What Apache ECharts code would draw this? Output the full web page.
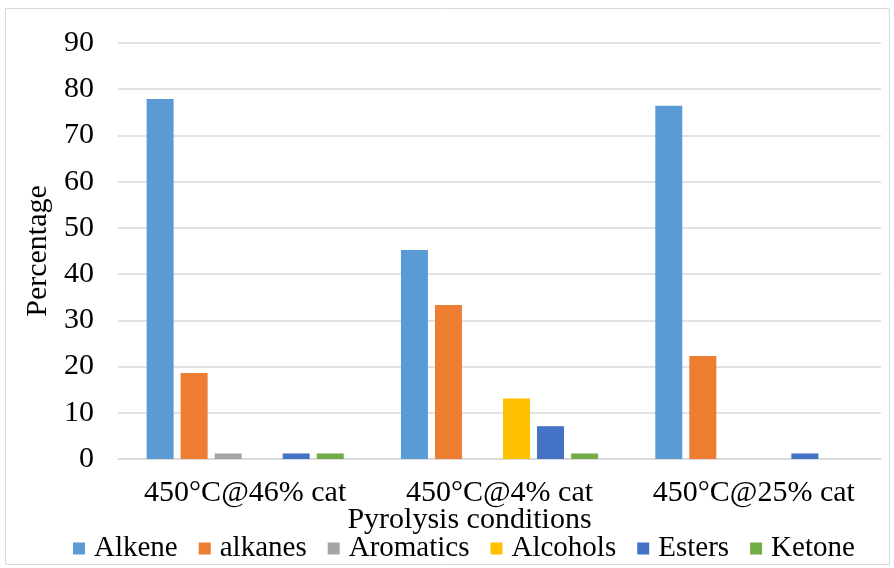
<!DOCTYPE html>
<html><head><meta charset="utf-8">
<script src="https://cdn.jsdelivr.net/npm/echarts@6/dist/echarts.min.js"></script>
<style>html,body{margin:0;padding:0;background:#fff}#c{width:894px;height:568px}</style>
</head><body><div id="c"></div>
<script>
const categories = ['450°C@46% cat', '450°C@4% cat', '450°C@25% cat'];
const seriesNames = ['Alkene', 'alkanes', 'Aromatics', 'Alcohols', 'Esters', 'Ketone'];
const alkene = [77.9, 45.2, 76.4];
const alkanes = [18.6, 33.3, 22.3];
const aromatics = [1.2, null, null];
const alcohols = [null, 13.1, null];
const esters = [1.2, 7.1, 1.2];
const ketone = [1.2, 1.2, null];
const yTicks = [0, 10, 20, 30, 40, 50, 60, 70, 80, 90];
const colors = ['#5B9BD5', '#ED7D31', '#A5A5A5', '#FFC000', '#4472C4', '#70AD47'];
const values = [alkene, alkanes, aromatics, alcohols, esters, ketone];

const font = 'Liberation Serif, Times New Roman, serif';
const chart = echarts.init(document.getElementById('c'));
chart.setOption({
  animation: false,
  color: colors,
  graphic: [{type: 'rect', shape: {x: 5.5, y: 8.5, width: 884, height: 556}, style: {fill: 'none', stroke: '#d9d9d9', lineWidth: 1}, silent: true}],
  grid: {left: 118, right: 13, top: 43, bottom: 109, containLabel: false},
  legend: {
    bottom: 0, left: 68, itemWidth: 12, itemHeight: 12, itemGap: 21,
    icon: 'rect',
    textStyle: {fontFamily: font, fontSize: 29, color: '#000', padding: [0, 0, 0, 4]},
    data: seriesNames
  },
  xAxis: {
    type: 'category', data: categories,
    name: 'Pyrolysis conditions', nameLocation: 'middle', nameGap: 46, nameMoveOverlap: false,
    nameTextStyle: {fontFamily: font, fontSize: 30, color: '#000', padding: [0, 60, 0, 0]},
    axisLine: {lineStyle: {color: '#d9d9d9', width: 1.5}},
    axisTick: {show: false},
    axisLabel: {fontFamily: font, fontSize: 30, color: '#000', margin: 19, interval: 0}
  },
  yAxis: {
    type: 'value', min: yTicks[0], max: yTicks[yTicks.length - 1], interval: 10,
    name: 'Percentage', nameLocation: 'middle', nameGap: 62, nameRotate: 90,
    nameTextStyle: {fontFamily: font, fontSize: 30, color: '#000'},
    axisLine: {show: false}, axisTick: {show: false},
    splitLine: {lineStyle: {color: '#d9d9d9', width: 1.5}},
    axisLabel: {fontFamily: font, fontSize: 30, color: '#000', margin: 24}
  },
  series: seriesNames.map((n, i) => ({
    name: n, type: 'bar', data: values[i], barWidth: 27, barGap: '26%'
  }))
});
</script></body></html>
